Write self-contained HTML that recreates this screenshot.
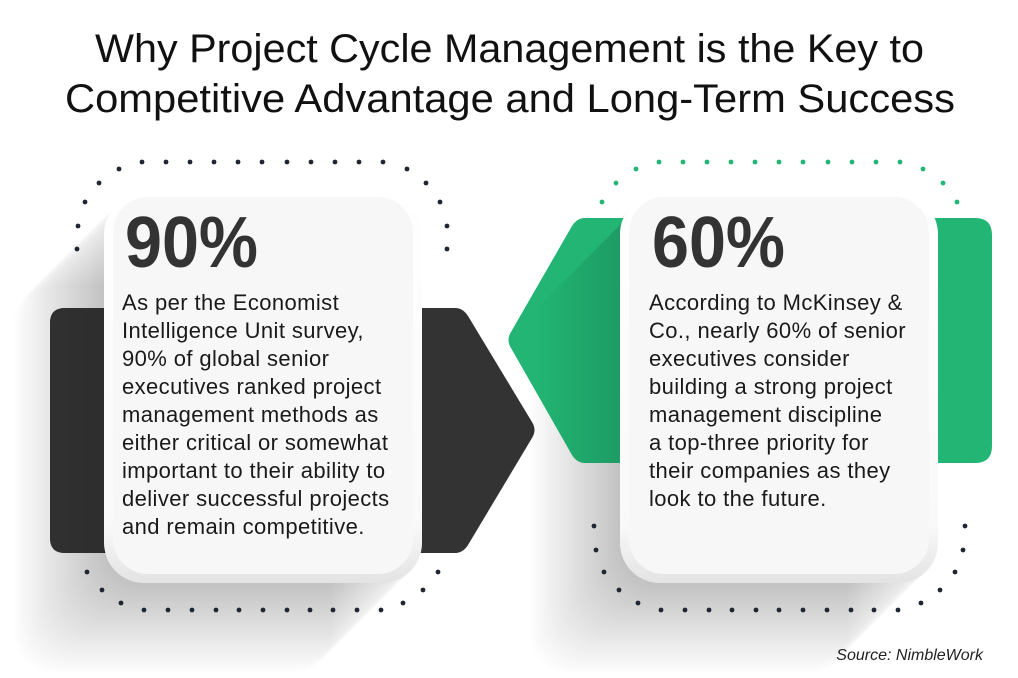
<!DOCTYPE html>
<html><head><meta charset="utf-8"><style>
html,body{margin:0;padding:0;background:#fff;}
svg{display:block;}
text{font-family:"Liberation Sans",Arial,sans-serif;}
</style></head><body>
<svg width="1018" height="678" viewBox="0 0 1018 678" xmlns="http://www.w3.org/2000/svg">
<defs>
<linearGradient id="rim" x1="0" y1="0" x2="0" y2="1">
<stop offset="0" stop-color="#ffffff"/><stop offset="0.85" stop-color="#f9f9f9"/><stop offset="1" stop-color="#e3e3e3"/>
</linearGradient>
<linearGradient id="gsh" gradientUnits="userSpaceOnUse" x1="535" y1="0" x2="620" y2="0">
<stop offset="0" stop-color="#000" stop-opacity="0"/><stop offset="1" stop-color="#000" stop-opacity="0.14"/>
</linearGradient>
<clipPath id="gclip"><path d="M975,218 Q992,218 992,235 V446 Q992,463 975,463 H585 Q577,463 572,455 L511,348 Q506,340 511,332 L572,226 Q577,218 585,218 Z"/></clipPath>
</defs>
<rect width="1018" height="678" fill="#fff"/>
<!-- title -->
<text x="95" y="62" font-size="40" fill="#111" textLength="829" lengthAdjust="spacingAndGlyphs">Why Project Cycle Management is the Key to</text>
<text x="65" y="112" font-size="40" fill="#111" textLength="890" lengthAdjust="spacingAndGlyphs">Competitive Advantage and Long-Term Success</text>
<!-- bands -->
<path d="M65,308 H455 Q463,308 468,316 L532,422 Q537,430 532,438 L468,545 Q463,553 455,553 H65 Q50,553 50,538 V323 Q50,308 65,308 Z" fill="#333333"/>
<!-- long shadows -->
<g fill="#000" fill-opacity="0.006">
<rect x="101" y="197" width="318" height="389" rx="40"/><rect x="98" y="200" width="318" height="389" rx="40"/><rect x="95" y="203" width="318" height="389" rx="40"/><rect x="92" y="206" width="318" height="389" rx="40"/><rect x="89" y="209" width="318" height="389" rx="40"/><rect x="86" y="212" width="318" height="389" rx="40"/><rect x="83" y="215" width="318" height="389" rx="40"/><rect x="80" y="218" width="318" height="389" rx="40"/><rect x="77" y="221" width="318" height="389" rx="40"/><rect x="74" y="224" width="318" height="389" rx="40"/><rect x="71" y="227" width="318" height="389" rx="40"/><rect x="68" y="230" width="318" height="389" rx="40"/><rect x="65" y="233" width="318" height="389" rx="40"/><rect x="62" y="236" width="318" height="389" rx="40"/><rect x="59" y="239" width="318" height="389" rx="40"/><rect x="56" y="242" width="318" height="389" rx="40"/><rect x="53" y="245" width="318" height="389" rx="40"/><rect x="50" y="248" width="318" height="389" rx="40"/><rect x="47" y="251" width="318" height="389" rx="40"/><rect x="44" y="254" width="318" height="389" rx="40"/><rect x="41" y="257" width="318" height="389" rx="40"/><rect x="38" y="260" width="318" height="389" rx="40"/><rect x="35" y="263" width="318" height="389" rx="40"/><rect x="32" y="266" width="318" height="389" rx="40"/><rect x="29" y="269" width="318" height="389" rx="40"/><rect x="26" y="272" width="318" height="389" rx="40"/><rect x="23" y="275" width="318" height="389" rx="40"/><rect x="20" y="278" width="318" height="389" rx="40"/><rect x="17" y="281" width="318" height="389" rx="40"/><rect x="14" y="284" width="318" height="389" rx="40"/>
<rect x="617" y="197" width="318" height="389" rx="40"/><rect x="614" y="200" width="318" height="389" rx="40"/><rect x="611" y="203" width="318" height="389" rx="40"/><rect x="608" y="206" width="318" height="389" rx="40"/><rect x="605" y="209" width="318" height="389" rx="40"/><rect x="602" y="212" width="318" height="389" rx="40"/><rect x="599" y="215" width="318" height="389" rx="40"/><rect x="596" y="218" width="318" height="389" rx="40"/><rect x="593" y="221" width="318" height="389" rx="40"/><rect x="590" y="224" width="318" height="389" rx="40"/><rect x="587" y="227" width="318" height="389" rx="40"/><rect x="584" y="230" width="318" height="389" rx="40"/><rect x="581" y="233" width="318" height="389" rx="40"/><rect x="578" y="236" width="318" height="389" rx="40"/><rect x="575" y="239" width="318" height="389" rx="40"/><rect x="572" y="242" width="318" height="389" rx="40"/><rect x="569" y="245" width="318" height="389" rx="40"/><rect x="566" y="248" width="318" height="389" rx="40"/><rect x="563" y="251" width="318" height="389" rx="40"/><rect x="560" y="254" width="318" height="389" rx="40"/><rect x="557" y="257" width="318" height="389" rx="40"/><rect x="554" y="260" width="318" height="389" rx="40"/><rect x="551" y="263" width="318" height="389" rx="40"/><rect x="548" y="266" width="318" height="389" rx="40"/><rect x="545" y="269" width="318" height="389" rx="40"/><rect x="542" y="272" width="318" height="389" rx="40"/><rect x="539" y="275" width="318" height="389" rx="40"/><rect x="536" y="278" width="318" height="389" rx="40"/><rect x="533" y="281" width="318" height="389" rx="40"/><rect x="530" y="284" width="318" height="389" rx="40"/>
</g>
<!-- green band drawn over shadow, with its own subtle shading -->
<path d="M975,218 Q992,218 992,235 V446 Q992,463 975,463 H585 Q577,463 572,455 L511,348 Q506,340 511,332 L572,226 Q577,218 585,218 Z" fill="#22b573"/>
<polygon points="627,218 640,218 640,470 490,470 490,355" fill="url(#gsh)" clip-path="url(#gclip)"/>
<!-- dark band left end kept uniform -->
<path d="M65,308 H104 V553 H65 Q50,553 50,538 V323 Q50,308 65,308 Z" fill="#333333" fill-opacity="0.85"/>
<!-- dots -->
<g fill="#1e2632">
<circle cx="142" cy="162" r="2.4"/><circle cx="166" cy="162" r="2.4"/><circle cx="190" cy="162" r="2.4"/><circle cx="214" cy="162" r="2.4"/><circle cx="238" cy="162" r="2.4"/><circle cx="262" cy="162" r="2.4"/><circle cx="287" cy="162" r="2.4"/><circle cx="311" cy="162" r="2.4"/><circle cx="335" cy="162" r="2.4"/><circle cx="359" cy="162" r="2.4"/><circle cx="383" cy="162" r="2.4"/>
<circle cx="119" cy="169" r="2.4"/><circle cx="99" cy="183" r="2.4"/><circle cx="85" cy="202" r="2.4"/><circle cx="78" cy="226" r="2.4"/><circle cx="77" cy="249" r="2.4"/>
<circle cx="407" cy="169" r="2.4"/><circle cx="426" cy="183" r="2.4"/><circle cx="440" cy="202" r="2.4"/><circle cx="447" cy="226" r="2.4"/><circle cx="447" cy="249" r="2.4"/>
<circle cx="87" cy="572" r="2.4"/><circle cx="102" cy="590" r="2.4"/><circle cx="121" cy="603" r="2.4"/>
<circle cx="144" cy="610" r="2.4"/><circle cx="168" cy="610" r="2.4"/><circle cx="192" cy="610" r="2.4"/><circle cx="216" cy="610" r="2.4"/><circle cx="239" cy="610" r="2.4"/><circle cx="263" cy="610" r="2.4"/><circle cx="287" cy="610" r="2.4"/><circle cx="310" cy="610" r="2.4"/><circle cx="333" cy="610" r="2.4"/><circle cx="357" cy="610" r="2.4"/><circle cx="381" cy="610" r="2.4"/>
<circle cx="403" cy="603" r="2.4"/><circle cx="423" cy="590" r="2.4"/><circle cx="438" cy="572" r="2.4"/>
<circle cx="594" cy="526" r="2.4"/><circle cx="596" cy="550" r="2.4"/><circle cx="604" cy="572" r="2.4"/><circle cx="619" cy="590" r="2.4"/><circle cx="638" cy="603" r="2.4"/>
<circle cx="661" cy="610" r="2.4"/><circle cx="685" cy="610" r="2.4"/><circle cx="709" cy="610" r="2.4"/><circle cx="732" cy="610" r="2.4"/><circle cx="756" cy="610" r="2.4"/><circle cx="779" cy="610" r="2.4"/><circle cx="803" cy="610" r="2.4"/><circle cx="827" cy="610" r="2.4"/><circle cx="851" cy="610" r="2.4"/><circle cx="874" cy="610" r="2.4"/><circle cx="898" cy="610" r="2.4"/>
<circle cx="921" cy="603" r="2.4"/><circle cx="940" cy="590" r="2.4"/><circle cx="955" cy="572" r="2.4"/><circle cx="963" cy="550" r="2.4"/><circle cx="965" cy="526" r="2.4"/>
</g>
<g fill="#22b573">
<circle cx="659" cy="162" r="2.4"/><circle cx="683" cy="162" r="2.4"/><circle cx="707" cy="162" r="2.4"/><circle cx="731" cy="162" r="2.4"/><circle cx="755" cy="162" r="2.4"/><circle cx="779" cy="162" r="2.4"/><circle cx="803" cy="162" r="2.4"/><circle cx="828" cy="162" r="2.4"/><circle cx="852" cy="162" r="2.4"/><circle cx="876" cy="162" r="2.4"/><circle cx="900" cy="162" r="2.4"/>
<circle cx="636" cy="169" r="2.4"/><circle cx="616" cy="183" r="2.4"/><circle cx="602" cy="202" r="2.4"/>
<circle cx="923" cy="169" r="2.4"/><circle cx="943" cy="183" r="2.4"/><circle cx="957" cy="202" r="2.4"/>
</g>
<!-- cards -->
<rect x="104" y="194" width="318" height="389" rx="40" fill="url(#rim)"/>
<rect x="113" y="197" width="300" height="377" rx="35" fill="#f7f7f7"/>
<rect x="620" y="194" width="318" height="389" rx="40" fill="url(#rim)"/>
<rect x="629" y="197" width="300" height="377" rx="35" fill="#f7f7f7"/>
<!-- numbers -->
<text x="125" y="267" font-size="72" font-weight="bold" fill="#333" textLength="133" lengthAdjust="spacingAndGlyphs">90%</text>
<text x="652" y="267" font-size="72" font-weight="bold" fill="#333" textLength="133" lengthAdjust="spacingAndGlyphs">60%</text>
<!-- body -->
<g font-size="22" fill="#1a1a1a" letter-spacing="0.4">
<text x="122" y="310">As per the Economist</text>
<text x="122" y="338">Intelligence Unit survey,</text>
<text x="122" y="366">90% of global senior</text>
<text x="122" y="394">executives ranked project</text>
<text x="122" y="422">management methods as</text>
<text x="122" y="450">either critical or somewhat</text>
<text x="122" y="478">important to their ability to</text>
<text x="122" y="506">deliver successful projects</text>
<text x="122" y="534">and remain competitive.</text>
<text x="649" y="310">According to McKinsey &amp;</text>
<text x="649" y="338">Co., nearly 60% of senior</text>
<text x="649" y="366">executives consider</text>
<text x="649" y="394">building a strong project</text>
<text x="649" y="422">management discipline</text>
<text x="649" y="450">a top-three priority for</text>
<text x="649" y="478">their companies as they</text>
<text x="649" y="506">look to the future.</text>
</g>
<text x="983" y="660" text-anchor="end" font-size="16" font-style="italic" fill="#222">Source: NimbleWork</text>
</svg>
</body></html>
